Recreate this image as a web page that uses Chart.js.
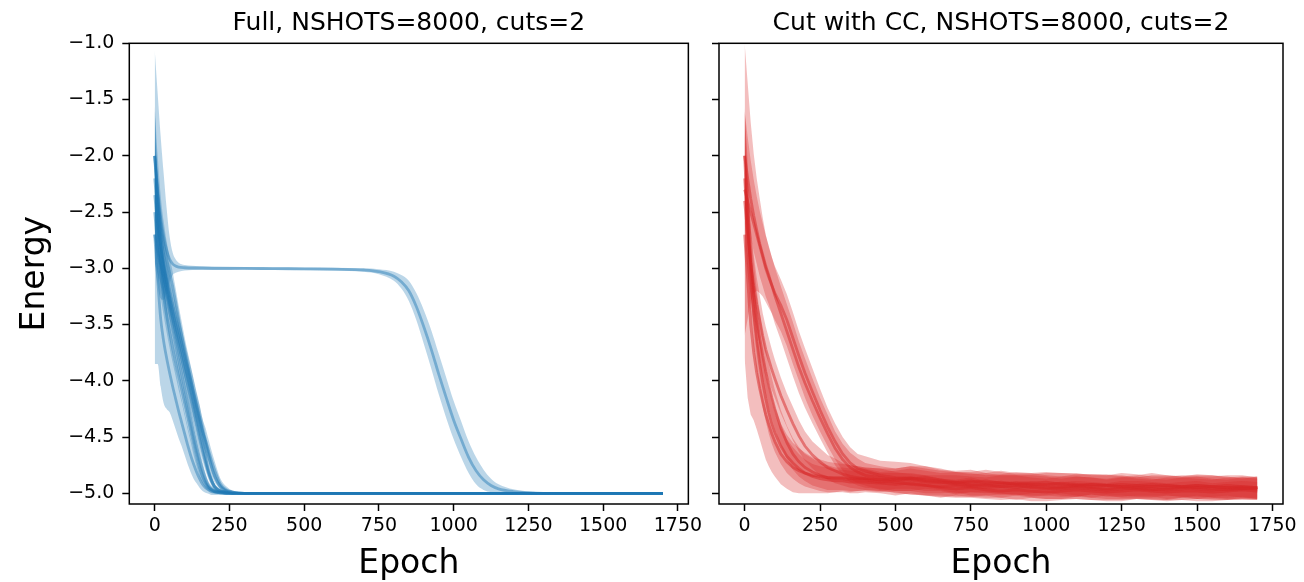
<!DOCTYPE html>
<html><head><meta charset="utf-8">
<script src="https://cdn.jsdelivr.net/npm/chart.js@4.4.1/dist/chart.umd.min.js"></script>
<style>
html,body{margin:0;padding:0;background:#fff;width:1304px;height:582px;overflow:hidden}
canvas{position:absolute;top:0}
#c1{left:0}
#c2{left:706px}
</style></head>
<body>
<canvas id="c1" width="706" height="582"></canvas>
<canvas id="c2" width="598" height="582"></canvas>
<script>
// ---------- texts & ticks ----------
const titleFull = 'Full, NSHOTS=8000, cuts=2';
const titleCut = 'Cut with CC, NSHOTS=8000, cuts=2';
const xLabel = 'Epoch';
const yLabel = 'Energy';
const xTickVals = [0, 250, 500, 750, 1000, 1250, 1500, 1750];
const yTickVals = [-5.0, -4.5, -4.0, -3.5, -3.0, -2.5, -2.0, -1.5, -1.0];

// ---------- Full (blue) : fast runs ----------
const fullFastEpochs = [0,10,20,30,40,50,60,70,80,90,100,110,120,130,140,150,160,170,180,190,200,220,240,260,300,400,1700];
const fullRun1Mean = [-2.7,-3.1,-3.45,-3.65,-3.8,-3.93,-4.05,-4.16,-4.27,-4.37,-4.47,-4.57,-4.66,-4.74,-4.81,-4.87,-4.92,-4.95,-4.97,-4.985,-4.99,-4.995,-5.0,-5.0,-5.0,-5.0,-5.0];
const fullRun1Std  = [1.15,0.75,0.6,0.55,0.45,0.35,0.3,0.27,0.24,0.21,0.19,0.17,0.15,0.13,0.1,0.08,0.06,0.045,0.035,0.03,0.025,0.02,0.015,0.012,0.01,0.008,0.008];
const fullRun2Mean = [-2.0,-2.45,-2.8,-3.05,-3.22,-3.38,-3.53,-3.67,-3.81,-3.94,-4.07,-4.2,-4.33,-4.46,-4.58,-4.69,-4.79,-4.87,-4.93,-4.96,-4.98,-4.99,-5.0,-5.0,-5.0,-5.0,-5.0];
const fullRun2Std  = [0.4,0.32,0.25,0.2,0.17,0.15,0.14,0.13,0.13,0.12,0.12,0.12,0.11,0.11,0.1,0.09,0.07,0.05,0.035,0.025,0.02,0.012,0.01,0.008,0.008,0.008,0.008];
const fullRun3Mean = [-2.2,-2.5,-2.78,-3.0,-3.13,-3.26,-3.38,-3.5,-3.62,-3.74,-3.86,-3.97,-4.08,-4.2,-4.32,-4.44,-4.56,-4.68,-4.8,-4.88,-4.94,-4.98,-4.99,-5.0,-5.0,-5.0,-5.0];
const fullRun3Std  = [0.35,0.3,0.25,0.2,0.16,0.14,0.13,0.12,0.12,0.12,0.11,0.11,0.11,0.11,0.1,0.1,0.09,0.08,0.06,0.045,0.03,0.015,0.01,0.008,0.008,0.008,0.008];
const fullRun4Mean = [-2.35,-2.6,-2.8,-2.97,-3.1,-3.22,-3.33,-3.44,-3.55,-3.66,-3.77,-3.88,-3.99,-4.1,-4.21,-4.32,-4.44,-4.56,-4.67,-4.77,-4.85,-4.94,-4.98,-4.99,-5.0,-5.0,-5.0];
const fullRun4Std  = [0.3,0.25,0.2,0.17,0.15,0.14,0.13,0.13,0.12,0.12,0.12,0.12,0.12,0.12,0.11,0.11,0.1,0.09,0.08,0.07,0.05,0.025,0.015,0.01,0.008,0.008,0.008];
const fullRun5Mean = [-2.0,-2.35,-2.6,-2.78,-2.92,-3.04,-3.16,-3.3,-3.45,-3.59,-3.73,-3.86,-3.98,-4.11,-4.23,-4.34,-4.45,-4.53,-4.62,-4.71,-4.79,-4.92,-4.97,-4.99,-5.0,-5.0,-5.0];
const fullRun5Std  = [0.45,0.35,0.25,0.2,0.16,0.14,0.13,0.12,0.12,0.12,0.12,0.12,0.12,0.12,0.12,0.12,0.11,0.11,0.1,0.09,0.08,0.05,0.03,0.015,0.01,0.008,0.008];
const fullRun6Mean = [-2.7,-2.85,-2.97,-3.08,-3.2,-3.32,-3.44,-3.56,-3.68,-3.8,-3.92,-4.04,-4.16,-4.28,-4.4,-4.52,-4.63,-4.73,-4.82,-4.89,-4.94,-4.98,-4.99,-5.0,-5.0,-5.0,-5.0];
const fullRun6Std  = [0.25,0.2,0.17,0.15,0.14,0.13,0.12,0.12,0.12,0.11,0.11,0.11,0.11,0.1,0.1,0.09,0.08,0.07,0.055,0.04,0.03,0.015,0.01,0.008,0.008,0.008,0.008];
const fullRun7Mean = [-2.5,-2.8,-3.05,-3.25,-3.42,-3.57,-3.71,-3.84,-3.96,-4.08,-4.2,-4.32,-4.44,-4.56,-4.67,-4.77,-4.85,-4.91,-4.95,-4.97,-4.985,-4.995,-5.0,-5.0,-5.0,-5.0,-5.0];
const fullRun7Std  = [0.3,0.25,0.2,0.17,0.15,0.14,0.13,0.12,0.12,0.11,0.11,0.11,0.1,0.1,0.09,0.08,0.06,0.045,0.03,0.02,0.015,0.01,0.008,0.008,0.008,0.008,0.008];

// ---------- Full (blue) : run stuck on the -3 plateau ----------
const fullPlateauEpochs = [0,10,20,30,40,50,60,70,80,100,150,200,300,400,500,600,700,750,800,825,850,875,900,925,950,975,1000,1025,1050,1075,1100,1125,1150,1200,1250,1300,1400,1500,1700];
const fullPlateauMean = [-2.0,-2.3,-2.55,-2.72,-2.84,-2.92,-2.96,-2.98,-2.99,-2.995,-2.998,-3.0,-3.0,-3.003,-3.005,-3.008,-3.015,-3.03,-3.07,-3.12,-3.2,-3.34,-3.52,-3.72,-3.94,-4.15,-4.35,-4.52,-4.68,-4.8,-4.88,-4.93,-4.96,-4.985,-4.995,-5.0,-5.0,-5.0,-5.0];
const fullPlateauStd  = [0.94,0.85,0.72,0.56,0.37,0.2,0.1,0.06,0.04,0.025,0.018,0.015,0.012,0.012,0.012,0.013,0.015,0.022,0.04,0.06,0.09,0.12,0.15,0.17,0.18,0.18,0.17,0.16,0.14,0.12,0.09,0.06,0.04,0.02,0.012,0.01,0.008,0.008,0.008];

// ---------- Cut with CC (red) ----------
const cutEpochs = [0,10,20,30,40,50,60,70,80,90,100,120,140,160,180,200,225,250,275,300,325,350,375,400,450,500,550,600,650,700,750,800,850,900,950,1000,1050,1100,1150,1200,1250,1300,1350,1400,1450,1500,1550,1600,1650,1700];
const cutRun1Mean = [-2.3,-2.4,-2.5,-2.6,-2.7,-2.8,-2.9,-3.0,-3.08,-3.15,-3.22,-3.33,-3.46,-3.62,-3.78,-3.93,-4.1,-4.26,-4.41,-4.54,-4.65,-4.73,-4.78,
  -4.8,-4.84,-4.86,-4.87,-4.89,-4.9,-4.92,-4.93,-4.92,-4.94,-4.95,-4.94,-4.95,-4.96,-4.95,-4.96,-4.97,-4.96,-4.95,-4.96,-4.97,-4.96,-4.95,-4.96,-4.97,-4.96,-4.96];
const cutRun1Std  = [1.3,1.05,0.8,0.62,0.5,0.42,0.35,0.3,0.27,0.25,0.24,0.23,0.23,0.23,0.22,0.22,0.21,0.19,0.17,0.16,0.15,0.14,0.13,
  0.13,0.13,0.14,0.14,0.13,0.12,0.11,0.1,0.1,0.1,0.11,0.1,0.1,0.09,0.1,0.1,0.09,0.1,0.1,0.09,0.09,0.1,0.1,0.09,0.09,0.1,0.1];
const cutRun2Mean = [-2.0,-2.2,-2.38,-2.53,-2.66,-2.78,-2.88,-2.98,-3.06,-3.15,-3.24,-3.4,-3.56,-3.72,-3.88,-4.02,-4.18,-4.33,-4.47,-4.6,-4.7,-4.77,-4.81,
  -4.84,-4.86,-4.88,-4.87,-4.86,-4.88,-4.9,-4.89,-4.91,-4.9,-4.92,-4.91,-4.9,-4.92,-4.93,-4.92,-4.93,-4.94,-4.93,-4.92,-4.93,-4.94,-4.93,-4.94,-4.95,-4.94,-4.95];
const cutRun2Std  = [0.4,0.37,0.34,0.32,0.3,0.29,0.28,0.27,0.26,0.25,0.25,0.24,0.24,0.24,0.23,0.22,0.2,0.18,0.17,0.15,0.14,0.13,0.12,
  0.11,0.1,0.1,0.11,0.1,0.09,0.1,0.1,0.09,0.1,0.1,0.09,0.09,0.1,0.1,0.09,0.1,0.09,0.09,0.1,0.09,0.09,0.1,0.1,0.09,0.09,0.1];
const cutRun3Mean = [-2.7,-3.1,-3.5,-3.75,-3.93,-4.07,-4.19,-4.3,-4.39,-4.47,-4.54,-4.65,-4.72,-4.77,-4.8,-4.82,-4.84,-4.85,-4.86,-4.86,-4.86,-4.87,-4.87,
  -4.87,-4.88,-4.9,-4.92,-4.93,-4.95,-4.96,-4.95,-4.97,-4.98,-4.97,-4.98,-4.99,-4.98,-4.97,-4.98,-4.99,-4.98,-4.97,-4.98,-4.99,-4.98,-4.98,-4.99,-4.98,-4.97,-4.98];
const cutRun3Std  = [1.1,1.05,0.8,0.6,0.5,0.45,0.42,0.4,0.37,0.34,0.31,0.27,0.24,0.22,0.2,0.18,0.16,0.15,0.14,0.13,0.12,0.12,0.11,
  0.1,0.1,0.09,0.09,0.09,0.08,0.08,0.09,0.08,0.08,0.08,0.09,0.08,0.08,0.08,0.08,0.08,0.09,0.08,0.08,0.08,0.08,0.09,0.08,0.08,0.08,0.08];
const cutRun4Mean = [-2.0,-2.6,-3.05,-3.4,-3.65,-3.85,-4.02,-4.16,-4.28,-4.38,-4.46,-4.58,-4.67,-4.73,-4.78,-4.82,-4.85,-4.87,-4.88,-4.89,-4.89,-4.9,-4.9,
  -4.9,-4.91,-4.92,-4.91,-4.93,-4.94,-4.93,-4.94,-4.95,-4.94,-4.93,-4.95,-4.96,-4.95,-4.94,-4.95,-4.96,-4.95,-4.96,-4.97,-4.96,-4.95,-4.96,-4.97,-4.96,-4.95,-4.96];
const cutRun4Std  = [0.45,0.4,0.35,0.3,0.27,0.24,0.22,0.2,0.19,0.18,0.17,0.16,0.15,0.14,0.13,0.12,0.11,0.11,0.11,0.1,0.1,0.1,0.1,
  0.09,0.09,0.1,0.09,0.09,0.1,0.09,0.09,0.09,0.1,0.09,0.09,0.09,0.1,0.09,0.09,0.09,0.1,0.09,0.09,0.1,0.09,0.09,0.09,0.1,0.09,0.09];
const cutRun5Mean = [-2.2,-2.6,-2.95,-3.22,-3.44,-3.62,-3.78,-3.92,-4.04,-4.15,-4.25,-4.42,-4.55,-4.65,-4.72,-4.77,-4.81,-4.84,-4.86,-4.87,-4.87,-4.88,-4.88,
  -4.88,-4.9,-4.89,-4.88,-4.9,-4.91,-4.9,-4.92,-4.93,-4.92,-4.91,-4.92,-4.93,-4.94,-4.93,-4.92,-4.93,-4.94,-4.95,-4.94,-4.93,-4.94,-4.95,-4.94,-4.93,-4.94,-4.95];
const cutRun5Std  = [0.4,0.36,0.32,0.28,0.25,0.23,0.21,0.2,0.19,0.18,0.17,0.16,0.15,0.14,0.13,0.12,0.12,0.11,0.11,0.1,0.1,0.1,0.1,
  0.1,0.09,0.09,0.1,0.1,0.09,0.09,0.1,0.09,0.09,0.1,0.1,0.09,0.09,0.1,0.09,0.09,0.1,0.09,0.1,0.09,0.09,0.1,0.09,0.09,0.1,0.09];
const cutRun6Mean = [-2.4,-2.7,-2.95,-3.15,-3.32,-3.46,-3.6,-3.72,-3.81,-3.9,-3.98,-4.13,-4.26,-4.38,-4.49,-4.58,-4.66,-4.72,-4.77,-4.8,-4.83,-4.85,-4.86,
  -4.87,-4.88,-4.87,-4.86,-4.88,-4.89,-4.91,-4.9,-4.89,-4.91,-4.92,-4.93,-4.92,-4.91,-4.92,-4.94,-4.93,-4.92,-4.93,-4.94,-4.95,-4.94,-4.93,-4.94,-4.95,-4.96,-4.95];
const cutRun6Std  = [0.4,0.35,0.3,0.27,0.24,0.22,0.2,0.2,0.19,0.18,0.17,0.16,0.15,0.15,0.14,0.13,0.12,0.12,0.11,0.11,0.1,0.1,0.1,
  0.1,0.1,0.09,0.1,0.1,0.09,0.1,0.09,0.1,0.1,0.09,0.1,0.1,0.09,0.1,0.1,0.09,0.1,0.1,0.09,0.1,0.1,0.09,0.1,0.1,0.09,0.1];

// ---------- helpers ----------
const FONT = 'DejaVu Sans';
const BLUE = [31, 119, 180];
const RED = [214, 39, 40];
const rgba = (c, a) => `rgba(${c[0]},${c[1]},${c[2]},${a})`;

function runDatasets(epochs, mean, std, color, smooth, lineAlpha) {
  const n = Math.min(epochs.length, mean.length, std.length);
  if (epochs.length !== mean.length || epochs.length !== std.length) console.warn('length mismatch', epochs.length, mean.length, std.length);
  const up = [], lo = [], mid = [];
  for (let i = 0; i < n; i++) {
    up.push({x: epochs[i], y: mean[i] + std[i]});
    lo.push({x: epochs[i], y: mean[i] - std[i]});
    mid.push({x: epochs[i], y: mean[i]});
  }
  const common = {pointRadius: 0, cubicInterpolationMode: smooth ? 'monotone' : 'default', tension: 0};
  return [
    Object.assign({data: up, borderWidth: 0, borderColor: 'rgba(0,0,0,0)', backgroundColor: rgba(color, 0.3), fill: '+1'}, common),
    Object.assign({data: lo, borderWidth: 0, borderColor: 'rgba(0,0,0,0)', fill: false}, common),
    Object.assign({data: mid, borderWidth: 2.8, borderColor: rgba(color, lineAlpha), fill: false}, common)
  ];
}

const spines = {
  id: 'spines',
  afterDatasetsDraw(chart) {
    const {ctx, chartArea: a} = chart;
    ctx.save();
    ctx.strokeStyle = '#000';
    ctx.lineWidth = 1.5;
    ctx.strokeRect(a.left, a.top, a.right - a.left, a.bottom - a.top);
    ctx.restore();
  }
};

function fmtY(v) {
  const s = Math.abs(v).toFixed(1);
  return v < 0 ? '\u2212' + s : s;
}

function makeChart(id, title, datasets, cfg) {
  const tickGrid = {drawOnChartArea: false, drawTicks: true, tickLength: 7, tickWidth: 1.5, tickColor: '#000'};
  return new Chart(document.getElementById(id), {
    type: 'line',
    data: {datasets},
    options: {
      responsive: false, animation: false, devicePixelRatio: 1,
      layout: {padding: {left: 0, right: cfg.padR, top: 0, bottom: 0}},
      plugins: {
        legend: {display: false}, tooltip: {enabled: false},
        title: {display: true, text: title, fullSize: false, color: '#000',
          font: {family: FONT, size: 25, weight: 'normal', lineHeight: 1.2},
          padding: {top: 8, bottom: 5.3}}
      },
      scales: {
        x: {
          type: 'linear', min: -85, max: 1785,
          afterBuildTicks: s => { s.ticks = xTickVals.map(v => ({value: v})); },
          afterFit: s => { s.height = 78; },
          ticks: {color: '#000', font: {family: FONT, size: 19}, padding: 3.6, maxRotation: 0, autoSkip: false,
            callback: v => String(v)},
          grid: tickGrid, border: {display: false},
          title: {display: true, text: xLabel, color: '#000', font: {family: FONT, size: 33, lineHeight: 1.0},
            padding: {top: 0, bottom: 0.8}}
        },
        y: {
          type: 'linear', min: -5.095, max: -1.0,
          afterBuildTicks: s => { s.ticks = yTickVals.map(v => ({value: v})); },
          afterFit: s => { s.width = cfg.yW; },
          ticks: {color: '#000', font: {family: FONT, size: 19}, padding: 8,
            callback: v => cfg.yLabels ? fmtY(v) : ''},
          grid: tickGrid, border: {display: false},
          title: {display: cfg.yTitle, text: yLabel, color: '#000', font: {family: FONT, size: 33, lineHeight: 1.2},
            padding: {top: 15.8, bottom: 0}}
        }
      }
    },
    plugins: [spines]
  });
}

// ---------- build ----------
const blueSets = [].concat(
  runDatasets(fullPlateauEpochs, fullPlateauMean, fullPlateauStd, BLUE, true, 0.45),
  runDatasets(fullFastEpochs, fullRun1Mean, fullRun1Std, BLUE, true, 0.45),
  runDatasets(fullFastEpochs, fullRun2Mean, fullRun2Std, BLUE, true, 0.45),
  runDatasets(fullFastEpochs, fullRun3Mean, fullRun3Std, BLUE, true, 0.45),
  runDatasets(fullFastEpochs, fullRun4Mean, fullRun4Std, BLUE, true, 0.45),
  runDatasets(fullFastEpochs, fullRun5Mean, fullRun5Std, BLUE, true, 0.45),
  runDatasets(fullFastEpochs, fullRun6Mean, fullRun6Std, BLUE, true, 0.45),
  runDatasets(fullFastEpochs, fullRun7Mean, fullRun7Std, BLUE, true, 0.45)
);
const redSets = [].concat(
  runDatasets(cutEpochs, cutRun1Mean, cutRun1Std, RED, false, 0.5),
  runDatasets(cutEpochs, cutRun2Mean, cutRun2Std, RED, false, 0.5),
  runDatasets(cutEpochs, cutRun3Mean, cutRun3Std, RED, false, 0.5),
  runDatasets(cutEpochs, cutRun4Mean, cutRun4Std, RED, false, 0.5),
  runDatasets(cutEpochs, cutRun5Mean, cutRun5Std, RED, false, 0.5),
  runDatasets(cutEpochs, cutRun6Mean, cutRun6Std, RED, false, 0.5)
);

makeChart('c1', titleFull, blueSets, {padR: 13, yW: 129.3, yLabels: true, yTitle: true});
makeChart('c2', titleCut, redSets, {padR: 21, yW: 13, yLabels: false, yTitle: false});
</script>
</body></html>
